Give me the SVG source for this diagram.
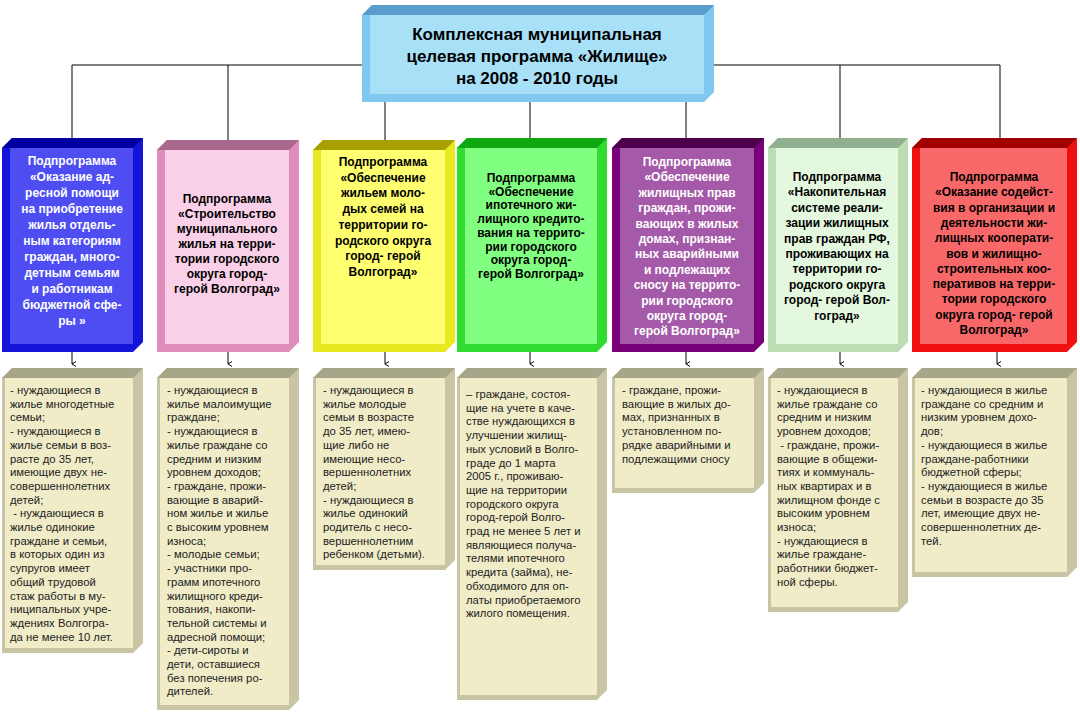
<svg xmlns="http://www.w3.org/2000/svg" width="1080" height="712" viewBox="0 0 1080 712">
<style>
.t{font-family:"Liberation Sans",Arial,sans-serif;font-weight:bold;font-size:12px;text-anchor:middle}
.ttl{font-family:"Liberation Sans",Arial,sans-serif;font-weight:bold;font-size:17px;text-anchor:middle;fill:#000}
.b{font-family:"Liberation Sans",Arial,sans-serif;font-size:11.3px;fill:#222}
.w{fill:#fff}.k{fill:#000}
.ln{stroke:#000;stroke-width:1;fill:none}
.bf{fill:#f0ecc8}.be{fill:#c8c4a4}.bt{fill:#a8a688}
</style>
<defs>
<marker id="ar" markerWidth="6" markerHeight="6" refX="3" refY="5" orient="auto-start-reverse" markerUnits="userSpaceOnUse"><path d="M0.5,1 L3,5 L5.5,1" fill="none" stroke="#000" stroke-width="1"/></marker>
</defs>
<rect width="1080" height="712" fill="#fff"/>
<g id="connectors">
<path class="ln" d="M72,65 H1000 M72,65 V138 M228,65 V140 M385,65 V140 M530,65 V138 M686,65 V138 M840,65 V138 M1000,65 V138"/>
<path class="ln" marker-end="url(#ar)" d="M72,352 V364"/>
<path class="ln" marker-end="url(#ar)" d="M228,352 V364"/>
<path class="ln" marker-end="url(#ar)" d="M385,352 V364"/>
<path class="ln" marker-end="url(#ar)" d="M530,352 V364"/>
<path class="ln" marker-end="url(#ar)" d="M686,352 V364"/>
<path class="ln" marker-end="url(#ar)" d="M840,352 V364"/>
<path class="ln" marker-end="url(#ar)" d="M997,352 V364"/>
</g>
<g id="title">
<path d="M362,15 L372,5 H714 V92 L704,102 H362 Z" fill="#80c8f0"/>
<path d="M362,15 L372,5 H714 L704,15 Z" fill="#5a9ccc"/>
<rect x="370" y="15" width="334" height="79" fill="#a8e0f8"/>
<text class="ttl" x="537" y="40">Комплексная муниципальная</text>
<text class="ttl" x="537" y="62">целевая программа «Жилище»</text>
<text class="ttl" x="537" y="84">на 2008 - 2010 годы</text>
</g>
<g id="p1">
<path d="M2,148 L12,138 H143 V342 L133,352 H2 Z" fill="#1414d8"/>
<path d="M2,148 L12,138 H143 L133,148 Z" fill="#0000a0"/>
<rect x="10" y="148" width="123" height="196" fill="#4d4df2"/>
<text class="t w" x="72" y="165"><tspan x="72">Подпрограмма</tspan><tspan x="72" dy="16">«Оказание ад-</tspan><tspan x="72" dy="16">ресной помощи</tspan><tspan x="72" dy="16">на приобретение</tspan><tspan x="72" dy="16">жилья отдель-</tspan><tspan x="72" dy="16">ным категориям</tspan><tspan x="72" dy="16">граждан, много-</tspan><tspan x="72" dy="16">детным семьям</tspan><tspan x="72" dy="16">и работникам</tspan><tspan x="72" dy="16">бюджетной сфе-</tspan><tspan x="72" dy="16">ры »</tspan></text>
</g>
<g id="p2">
<path d="M157,150 L167,140 H299 V342 L289,352 H157 Z" fill="#e08cbc"/>
<path d="M157,150 L167,140 H299 L289,150 Z" fill="#a8688e"/>
<rect x="165" y="150" width="124" height="194" fill="#f9d0e8"/>
<text class="t k" x="227" y="203"><tspan x="227">Подпрограмма</tspan><tspan x="227" dy="15">«Строительство</tspan><tspan x="227" dy="15">муниципального</tspan><tspan x="227" dy="15">жилья на терри-</tspan><tspan x="227" dy="15">тории городского</tspan><tspan x="227" dy="15">округа город-</tspan><tspan x="227" dy="15">герой Волгоград»</tspan></text>
</g>
<g id="p3">
<path d="M313,150 L323,140 H455 V342 L445,352 H313 Z" fill="#e8e820"/>
<path d="M313,150 L323,140 H455 L445,150 Z" fill="#a8a000"/>
<rect x="321" y="150" width="124" height="194" fill="#ffff70"/>
<text class="t k" x="383" y="166"><tspan x="383">Подпрограмма</tspan><tspan x="383" dy="15.7">«Обеспечение</tspan><tspan x="383" dy="15.7">жильем моло-</tspan><tspan x="383" dy="15.7">дых семей на</tspan><tspan x="383" dy="15.7">территории го-</tspan><tspan x="383" dy="15.7">родского округа</tspan><tspan x="383" dy="15.7">город- герой</tspan><tspan x="383" dy="15.7">Волгоград»</tspan></text>
</g>
<g id="p4">
<path d="M457,148 L467,138 H607 V342 L597,352 H457 Z" fill="#30dc30"/>
<path d="M457,148 L467,138 H607 L597,148 Z" fill="#10a810"/>
<rect x="465" y="148" width="132" height="196" fill="#80ff80"/>
<text class="t k" x="531" y="182"><tspan x="531">Подпрограмма</tspan><tspan x="531" dy="13.7">«Обеспечение</tspan><tspan x="531" dy="13.7">ипотечного жи-</tspan><tspan x="531" dy="13.7">лищного кредито-</tspan><tspan x="531" dy="13.7">вания на террито-</tspan><tspan x="531" dy="13.7">рии городского</tspan><tspan x="531" dy="13.7">округа город-</tspan><tspan x="531" dy="13.7">герой Волгоград»</tspan></text>
</g>
<g id="p5">
<path d="M612,148 L622,138 H764 V342 L754,352 H612 Z" fill="#780078"/>
<path d="M612,148 L622,138 H764 L754,148 Z" fill="#4c004c"/>
<rect x="620" y="148" width="134" height="196" fill="#a45aa8"/>
<text class="t w" x="687" y="166"><tspan x="687">Подпрограмма</tspan><tspan x="687" dy="15.4">«Обеспечение</tspan><tspan x="687" dy="15.4">жилищных прав</tspan><tspan x="687" dy="15.4">граждан, прожи-</tspan><tspan x="687" dy="15.4">вающих в жилых</tspan><tspan x="687" dy="15.4">домах, признан-</tspan><tspan x="687" dy="15.4">ных аварийными</tspan><tspan x="687" dy="15.4">и подлежащих</tspan><tspan x="687" dy="15.4">сносу на террито-</tspan><tspan x="687" dy="15.4">рии городского</tspan><tspan x="687" dy="15.4">округа город-</tspan><tspan x="687" dy="15.4">герой Волгоград»</tspan></text>
</g>
<g id="p6">
<path d="M768,148 L778,138 H908 V342 L898,352 H768 Z" fill="#bcdcb4"/>
<path d="M768,148 L778,138 H908 L898,148 Z" fill="#90b090"/>
<rect x="776" y="148" width="122" height="196" fill="#e4f8e0"/>
<text class="t k" x="837" y="181"><tspan x="837">Подпрограмма</tspan><tspan x="837" dy="15.4">«Накопительная</tspan><tspan x="837" dy="15.4">системе реали-</tspan><tspan x="837" dy="15.4">зации жилищных</tspan><tspan x="837" dy="15.4">прав граждан РФ,</tspan><tspan x="837" dy="15.4">проживающих на</tspan><tspan x="837" dy="15.4">территории го-</tspan><tspan x="837" dy="15.4">родского округа</tspan><tspan x="837" dy="15.4">город- герой Вол-</tspan><tspan x="837" dy="15.4">гоград»</tspan></text>
</g>
<g id="p7">
<path d="M912,148 L922,138 H1077 V342 L1067,352 H912 Z" fill="#f01010"/>
<path d="M912,148 L922,138 H1077 L1067,148 Z" fill="#a00000"/>
<rect x="920" y="148" width="147" height="196" fill="#f86868"/>
<text class="t k" x="994" y="181"><tspan x="994">Подпрограмма</tspan><tspan x="994" dy="15.3">«Оказание содейст-</tspan><tspan x="994" dy="15.3">вия в организации и</tspan><tspan x="994" dy="15.3">деятельности жи-</tspan><tspan x="994" dy="15.3">лищных кооперати-</tspan><tspan x="994" dy="15.3">вов и жилищно-</tspan><tspan x="994" dy="15.3">строительных коо-</tspan><tspan x="994" dy="15.3">перативов на терри-</tspan><tspan x="994" dy="15.3">тории городского</tspan><tspan x="994" dy="15.3">округа город- герой</tspan><tspan x="994" dy="15.3">Волгоград»</tspan></text>
</g>
<g id="d1">
<path d="M2,378 L12,368 H143 V643 L133,653 H2 Z" class="be"/>
<path d="M2,378 L12,368 H143 L133,378 Z" class="bt"/>
<rect x="5" y="378" width="128" height="270" class="bf"/>
<text class="b" y="394"><tspan x="10">-  нуждающиеся  в</tspan><tspan x="10" dy="13.7">жилье многодетные</tspan><tspan x="10" dy="13.7">семьи;</tspan><tspan x="10" dy="13.7">-  нуждающиеся  в</tspan><tspan x="10" dy="13.7">жилье семьи в воз-</tspan><tspan x="10" dy="13.7">расте  до  35  лет,</tspan><tspan x="10" dy="13.7">имеющие двух не-</tspan><tspan x="10" dy="13.7">совершеннолетних</tspan><tspan x="10" dy="13.7">детей;</tspan><tspan x="10" dy="13.7"> - нуждающиеся в</tspan><tspan x="10" dy="13.7">жилье      одинокие</tspan><tspan x="10" dy="13.7">граждане и семьи,</tspan><tspan x="10" dy="13.7">в которых один из</tspan><tspan x="10" dy="13.7">супругов        имеет</tspan><tspan x="10" dy="13.7">общий      трудовой</tspan><tspan x="10" dy="13.7">стаж работы в му-</tspan><tspan x="10" dy="13.7">ниципальных учре-</tspan><tspan x="10" dy="13.7">ждениях Волгогра-</tspan><tspan x="10" dy="13.7">да не менее 10 лет.</tspan></text>
</g>
<g id="d2">
<path d="M157,378 L167,368 H299 V700 L289,710 H157 Z" class="be"/>
<path d="M157,378 L167,368 H299 L289,378 Z" class="bt"/>
<rect x="160" y="378" width="129" height="327" class="bf"/>
<text class="b" y="394"><tspan x="167">-  нуждающиеся  в</tspan><tspan x="167" dy="13.7">жилье малоимущие</tspan><tspan x="167" dy="13.7">граждане;</tspan><tspan x="167" dy="13.7">-  нуждающиеся  в</tspan><tspan x="167" dy="13.7">жилье граждане со</tspan><tspan x="167" dy="13.7">средним  и  низким</tspan><tspan x="167" dy="13.7">уровнем доходов;</tspan><tspan x="167" dy="13.7">- граждане, прожи-</tspan><tspan x="167" dy="13.7">вающие  в  аварий-</tspan><tspan x="167" dy="13.7">ном жилье и жилье</tspan><tspan x="167" dy="13.7">с высоким уровнем</tspan><tspan x="167" dy="13.7">износа;</tspan><tspan x="167" dy="13.7">- молодые семьи;</tspan><tspan x="167" dy="13.7">-   участники   про-</tspan><tspan x="167" dy="13.7">грамм   ипотечного</tspan><tspan x="167" dy="13.7">жилищного   креди-</tspan><tspan x="167" dy="13.7">тования,    накопи-</tspan><tspan x="167" dy="13.7">тельной системы и</tspan><tspan x="167" dy="13.7">адресной помощи;</tspan><tspan x="167" dy="13.7">-   дети-сироты   и</tspan><tspan x="167" dy="13.7">дети,   оставшиеся</tspan><tspan x="167" dy="13.7">без попечения ро-</tspan><tspan x="167" dy="13.7">дителей.</tspan></text>
</g>
<g id="d3">
<path d="M313,378 L323,368 H455 V560 L445,570 H313 Z" class="be"/>
<path d="M313,378 L323,368 H455 L445,378 Z" class="bt"/>
<rect x="316" y="378" width="129" height="187" class="bf"/>
<text class="b" y="394"><tspan x="323"> -  нуждающиеся  в</tspan><tspan x="323" dy="13.7">жилье         молодые</tspan><tspan x="323" dy="13.7">семьи  в  возрасте</tspan><tspan x="323" dy="13.7">до  35  лет,  имею-</tspan><tspan x="323" dy="13.7">щие      либо        не</tspan><tspan x="323" dy="13.7">имеющие        несо-</tspan><tspan x="323" dy="13.7">вершеннолетних</tspan><tspan x="323" dy="13.7">детей;</tspan><tspan x="323" dy="13.7">-  нуждающиеся  в</tspan><tspan x="323" dy="13.7">жилье      одинокий</tspan><tspan x="323" dy="13.7">родитель  с  несо-</tspan><tspan x="323" dy="13.7">вершеннолетним</tspan><tspan x="323" dy="13.7">ребенком (детьми).</tspan></text>
</g>
<g id="d4">
<path d="M457,378 L467,368 H607 V690 L597,700 H457 Z" class="be"/>
<path d="M457,378 L467,368 H607 L597,378 Z" class="bt"/>
<rect x="460" y="378" width="137" height="317" class="bf"/>
<text class="b" y="398"><tspan x="466">– граждане, состоя-</tspan><tspan x="466" dy="13.7">щие на учете в каче-</tspan><tspan x="466" dy="13.7">стве нуждающихся в</tspan><tspan x="466" dy="13.7">улучшении жилищ-</tspan><tspan x="466" dy="13.7">ных условий в Волго-</tspan><tspan x="466" dy="13.7">граде до 1 марта</tspan><tspan x="466" dy="13.7">2005 г., проживаю-</tspan><tspan x="466" dy="13.7">щие на территории</tspan><tspan x="466" dy="13.7">городского округа</tspan><tspan x="466" dy="13.7">город-герой Волго-</tspan><tspan x="466" dy="13.7">град не менее 5 лет и</tspan><tspan x="466" dy="13.7">являющиеся получа-</tspan><tspan x="466" dy="13.7">телями ипотечного</tspan><tspan x="466" dy="13.7">кредита (займа), не-</tspan><tspan x="466" dy="13.7">обходимого для оп-</tspan><tspan x="466" dy="13.7">латы приобретаемого</tspan><tspan x="466" dy="13.7">жилого  помещения.</tspan></text>
</g>
<g id="d5">
<path d="M612,378 L622,368 H764 V483 L754,493 H612 Z" class="be"/>
<path d="M612,378 L622,368 H764 L754,378 Z" class="bt"/>
<rect x="615" y="378" width="139" height="110" class="bf"/>
<text class="b" y="394"><tspan x="622">-    граждане,    прожи-</tspan><tspan x="622" dy="13.7">вающие в жилых до-</tspan><tspan x="622" dy="13.7">мах,   признанных   в</tspan><tspan x="622" dy="13.7">установленном      по-</tspan><tspan x="622" dy="13.7">рядке аварийными и</tspan><tspan x="622" dy="13.7">подлежащими сносу</tspan></text>
</g>
<g id="d6">
<path d="M768,378 L778,368 H908 V602 L898,612 H768 Z" class="be"/>
<path d="M768,378 L778,368 H908 L898,378 Z" class="bt"/>
<rect x="771" y="378" width="127" height="229" class="bf"/>
<text class="b" y="394"><tspan x="777">-   нуждающиеся   в</tspan><tspan x="777" dy="13.7">жилье граждане со</tspan><tspan x="777" dy="13.7">средним  и  низким</tspan><tspan x="777" dy="13.7">уровнем доходов;</tspan><tspan x="777" dy="13.7"> - граждане, прожи-</tspan><tspan x="777" dy="13.7">вающие в общежи-</tspan><tspan x="777" dy="13.7">тиях и коммуналь-</tspan><tspan x="777" dy="13.7">ных квартирах и в</tspan><tspan x="777" dy="13.7">жилищном фонде с</tspan><tspan x="777" dy="13.7">высоким     уровнем</tspan><tspan x="777" dy="13.7">износа;</tspan><tspan x="777" dy="13.7">-   нуждающиеся   в</tspan><tspan x="777" dy="13.7">жилье      граждане-</tspan><tspan x="777" dy="13.7">работники бюджет-</tspan><tspan x="777" dy="13.7">ной сферы.</tspan></text>
</g>
<g id="d7">
<path d="M912,378 L922,368 H1077 V567 L1067,577 H912 Z" class="be"/>
<path d="M912,378 L922,368 H1077 L1067,378 Z" class="bt"/>
<rect x="915" y="378" width="152" height="194" class="bf"/>
<text class="b" y="394"><tspan x="921">- нуждающиеся в жилье</tspan><tspan x="921" dy="13.7">граждане со средним и</tspan><tspan x="921" dy="13.7">низким  уровнем  дохо-</tspan><tspan x="921" dy="13.7">дов;</tspan><tspan x="921" dy="13.7">- нуждающиеся в жилье</tspan><tspan x="921" dy="13.7">граждане-работники</tspan><tspan x="921" dy="13.7">бюджетной сферы;</tspan><tspan x="921" dy="13.7">- нуждающиеся в жилье</tspan><tspan x="921" dy="13.7">семьи в возрасте до 35</tspan><tspan x="921" dy="13.7">лет, имеющие двух не-</tspan><tspan x="921" dy="13.7">совершеннолетних  де-</tspan><tspan x="921" dy="13.7">тей.</tspan></text>
</g>
</svg>
